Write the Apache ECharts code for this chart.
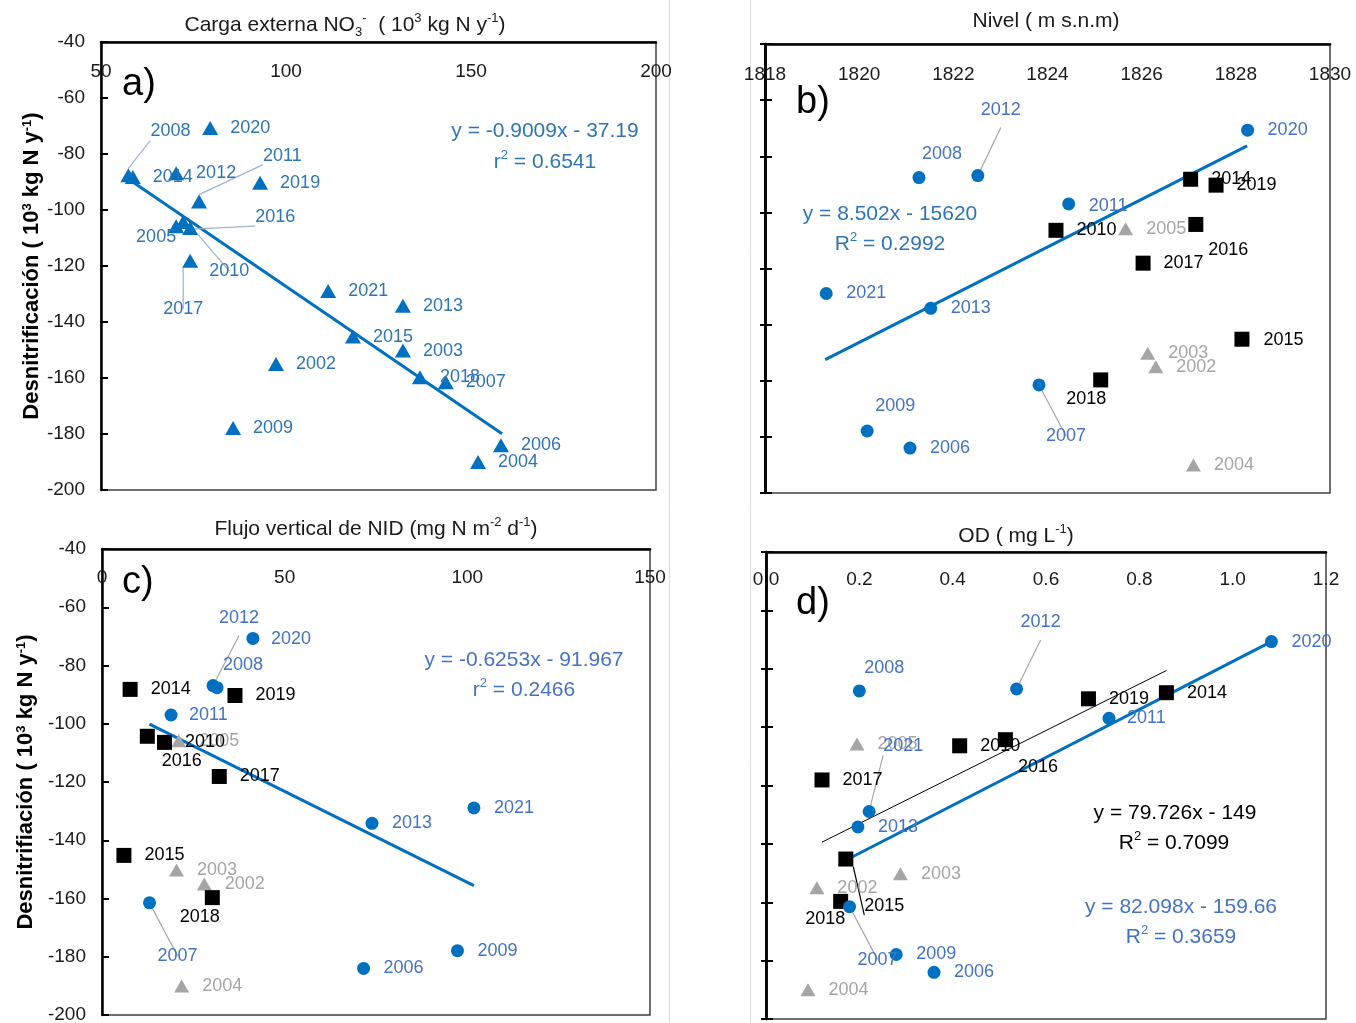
<!DOCTYPE html>
<html>
<head>
<meta charset="utf-8">
<script src="https://cdn.jsdelivr.net/npm/echarts@6/dist/echarts.min.js"></script>
<style>
  html, body { margin: 0; background: #fff; }
  #chart { width: 1356px; height: 1023px; }
</style>
</head>
<body>
<div id="chart"></div>
<script>
// years and denitrification (y, shared by the four panels)
var years = [2002, 2003, 2004, 2005, 2006, 2007, 2008, 2009, 2010, 2011,
             2012, 2013, 2014, 2015, 2016, 2017, 2018, 2019, 2020, 2021];
var denit = [-155, -150.2, -190, -105.8, -184, -161.5, -87.6, -177.9, -106.4, -97,
             -86.9, -134.2, -88.2, -145.2, -104.3, -118.1, -159.7, -90.3, -70.7, -128.9];

// x of each panel
var cargaNO3 = [97.3, 131.6, 151.9, 70.3, 158.1, 143.2, 57.4, 85.7, 74.1, 76.5,
                70.3, 131.6, 58.6, 118.1, 72.2, 74.1, 136.2, 93.0, 79.5, 111.4];
var nivel = [1826.3, 1826.13, 1827.1, 1825.66, 1821.08, 1823.82, 1821.27, 1820.17, 1824.18, 1824.45,
             1822.52, 1821.52, 1827.04, 1828.13, 1827.15, 1826.03, 1825.13, 1827.58, 1828.25, 1819.3];
var flujoNID = [28.0, 20.4, 21.8, 21.0, 71.6, 13.0, 31.5, 97.3, 17.1, 18.9,
                30.4, 73.9, 7.7, 6.0, 12.4, 32.1, 30.2, 36.4, 41.3, 101.8];
var oxigeno = [0.109, 0.288, 0.090, 0.195, 0.360, 0.179, 0.200, 0.279, 0.415, 0.735,
               0.537, 0.197, 0.858, 0.171, 0.513, 0.120, 0.160, 0.691, 1.083, 0.221];

// groups of years (panels b, c, d)
var blueYears = [2006, 2007, 2008, 2009, 2011, 2012, 2013, 2020, 2021];
var blackYears = [2010, 2014, 2015, 2016, 2017, 2018, 2019];
var grayYears = [2002, 2003, 2004, 2005];

// trend line end points
var trendA = [[58.5, -89.9], [158.4, -179.9]];
var trendB = [[1819.28, -152.5], [1828.24, -76.3]];
var trendC = [[13.0, -100.1], [101.8, -155.6]];
var trendD = [[0.171, -145.6], [1.083, -70.7]];
var trendDblack = [[0.12, -139.4], [0.858, -80.6]];

// label placement (px from point centre to label left / middle)
var labA = {2008: [22, -44], 2011: [64, -46], 2016: [72, -5], 2005: [-40, 11], 2010: [19, 43], 2017: [-27, 48]};
var leadA = [2008, 2011, 2016, 2010, 2017];
var labB = {2008: [3, -24], 2012: [3, -66], 2016: [12, 26], 2018: [-35, 19], 2007: [7, 51], 2009: [8, -25], 2011: [20, 2], 2015: [21, 1]};
var leadB = [2012, 2007];
var labC = {2012: [6, -68], 2008: [6, -23], 2011: [18, 0], 2016: [14, 25], 2018: [-33, 19], 2007: [8, 53], 2020: [18, 1]};
var leadC = [2012, 2007];
var labD = {2008: [5, -23], 2012: [4, -67], 2016: [12, 27], 2021: [14, -65], 2015: [18, 47], 2018: [-36, 18], 2007: [8, 53], 2011: [18, 0]};
var leadD = [2012, 2021, 2015, 2007];

var FONT = "'Liberation Sans Narrow', 'Arial Narrow', 'Liberation Sans', sans-serif";
var BLUE = '#0070C0';
var chart = echarts.init(document.getElementById('chart'));

function points(xs, group, offs, leads, half, leadColor) {
  var out = [];
  years.forEach(function (yr, i) {
    if (group && group.indexOf(yr) < 0) return;
    var o = offs[yr] || [20, 0];
    out.push({
      value: [xs[i], denit[i], yr],
      label: { offset: [o[0] - half, o[1]] },
      labelLine: { show: leads.indexOf(yr) >= 0, lineStyle: { color: leadColor, width: 1.2 } }
    });
  });
  return out;
}

function scatter(idx, yIdx, data, symbol, size, color, labelColor) {
  return {
    type: 'scatter', xAxisIndex: idx, yAxisIndex: yIdx, data: data,
    symbol: symbol, symbolSize: size, itemStyle: { color: color, opacity: 1 },
    label: {
      show: true, position: 'right', distance: 0, color: labelColor,
      fontFamily: FONT, fontSize: 18,
      formatter: function (p) { return p.value[2]; }
    },
    labelLine: { length2: 0, minTurnAngle: 0 },
    z: 3
  };
}

function trend(idx, yIdx, data, color, width) {
  return {
    type: 'line', xAxisIndex: idx, yAxisIndex: yIdx, data: data, symbol: 'none',
    lineStyle: { color: color, width: width }, z: 2, silent: true
  };
}

function xAxis(idx, min, max, step, margin, fmt) {
  return {
    type: 'value', gridIndex: idx, position: 'top', min: min, max: max, interval: step,
    axisLine: { show: true, onZero: false, lineStyle: { color: '#000', width: 2.5 } },
    axisTick: { show: false },
    axisLabel: { inside: true, margin: margin, fontFamily: FONT, fontSize: 19, color: '#1a1a1a', formatter: fmt || function (v) { return String(v); } },
    splitLine: { show: false }
  };
}

function yAxis(idx, withLabels, inside, name, gap) {
  return {
    type: 'value', gridIndex: idx, position: 'left', min: -200, max: -40, interval: 20,
    axisLine: { show: true, onZero: false, lineStyle: { color: '#000', width: 2.5 } },
    axisTick: { show: true, inside: inside, length: inside ? 7 : 5, lineStyle: { color: '#000', width: 2 } },
    axisLabel: { show: withLabels, margin: 16, fontFamily: FONT, fontSize: 19, color: '#1a1a1a' },
    splitLine: { show: false },
    name: name || '', nameLocation: 'middle', nameGap: gap || 0, nameRotate: 90,
    nameTextStyle: {
      fontFamily: FONT, fontSize: 22, fontWeight: 'bold', color: '#000',
      rich: { sup: { fontFamily: FONT, fontSize: 13, fontWeight: 'bold', verticalAlign: 'top', lineHeight: 13 } }
    }
  };
}

function text(x, y, str, size, color, align) {
  var small = Math.round(size * 0.62);
  return {
    type: 'text', silent: true, z: 10,
    style: {
      text: str, x: x, y: y, fontFamily: FONT, fontSize: size, fill: color,
      align: align || 'center', verticalAlign: 'middle', lineHeight: size + 6,
      rich: {
        sup: { fontFamily: FONT, fontSize: small, fill: color, verticalAlign: 'top', lineHeight: small },
        sub: { fontFamily: FONT, fontSize: small, fill: color, verticalAlign: 'bottom', lineHeight: small }
      }
    }
  };
}

function vline(x) {
  return { type: 'line', silent: true, shape: { x1: x, y1: 0, x2: x, y2: 1023 }, style: { stroke: '#dcdcdc', lineWidth: 1 } };
}

function grid(l, t, w, h) {
  return { left: l, top: t, width: w, height: h, show: true, borderColor: '#404040', borderWidth: 1.5,
           backgroundColor: 'transparent', containLabel: false, outerBoundsMode: 'none' };
}

var yName = 'Desnitrificación ( 10{sup|3} kg N y{sup|-1})';
var yNameC = 'Desnitrifiación ( 10{sup|3} kg N y{sup|-1})';

var option = {
  animation: false,
  backgroundColor: '#fff',
  grid: [grid(101, 42, 555, 448), grid(765, 44, 565, 449), grid(102, 549, 548, 466), grid(766, 552, 560, 467)],
  xAxis: [
    xAxis(0, 50, 200, 50, 20),
    xAxis(1, 1818, 1830, 2, 21),
    xAxis(2, 0, 150, 50, 19),
    xAxis(3, 0, 1.2, 0.2, 18, function (v) { return v.toFixed(1); })
  ],
  yAxis: [
    yAxis(0, true, true, yName, 58),
    yAxis(1, false, false),
    yAxis(1, false, true),
    yAxis(2, true, true, yNameC, 65),
    yAxis(3, false, false),
    yAxis(3, false, true)
  ],
  series: [
    trend(0, 0, trendA, BLUE, 3),
    scatter(0, 0, points(cargaNO3, null, labA, leadA, 8, '#9DB3CF'), 'triangle', [16, 14], BLUE, '#2E75B6'),

    trend(1, 1, trendB, BLUE, 3),
    scatter(1, 1, points(nivel, grayYears, labB, leadB, 7, '#A6A6A6'), 'triangle', [15, 13], '#A5A5A5', '#A5A5A5'),
    scatter(1, 1, points(nivel, blackYears, labB, leadB, 7, '#A6A6A6'), 'rect', 15, '#000', '#000'),
    scatter(1, 1, points(nivel, blueYears, labB, leadB, 6.5, '#A6A6A6'), 'circle', 13, BLUE, '#4472C4'),

    trend(2, 3, trendC, BLUE, 3),
    scatter(2, 3, points(flujoNID, grayYears, labC, leadC, 7, '#A6A6A6'), 'triangle', [15, 13], '#A5A5A5', '#A5A5A5'),
    scatter(2, 3, points(flujoNID, blackYears, labC, leadC, 7, '#A6A6A6'), 'rect', 15, '#000', '#000'),
    scatter(2, 3, points(flujoNID, blueYears, labC, leadC, 6.5, '#A6A6A6'), 'circle', 13, BLUE, '#4472C4'),

    trend(3, 4, trendDblack, '#000', 1),
    trend(3, 4, trendD, BLUE, 3),
    scatter(3, 4, points(oxigeno, grayYears, labD, leadD, 7, '#A6A6A6'), 'triangle', [15, 13], '#A5A5A5', '#A5A5A5'),
    scatter(3, 4, points(oxigeno, blackYears, labD, leadD, 7, '#000'), 'rect', 15, '#000', '#000'),
    scatter(3, 4, points(oxigeno, blueYears, labD, leadD, 6.5, '#A6A6A6'), 'circle', 13, BLUE, '#4472C4')
  ],
  graphic: [
    vline(669.5), vline(750.5),
    text(345, 25, 'Carga externa NO{sub|3}{sup|-}  ( 10{sup|3} kg N y{sup|-1})', 21, '#1a1a1a'),
    text(1046, 21, 'Nivel ( m s.n.m)', 21, '#1a1a1a'),
    text(376, 529, 'Flujo vertical de NID (mg N m{sup|-2} d{sup|-1})', 21, '#1a1a1a'),
    text(1016, 536, 'OD ( mg L{sup|-1})', 21, '#1a1a1a'),
    text(122, 85, 'a)', 38, '#000', 'left'),
    text(796, 103, 'b)', 38, '#000', 'left'),
    text(122, 583, 'c)', 38, '#000', 'left'),
    text(796, 604, 'd)', 38, '#000', 'left'),
    text(545, 131, 'y = -0.9009x - 37.19', 21, '#2E75B6'),
    text(545, 162, 'r{sup|2} = 0.6541', 21, '#2E75B6'),
    text(890, 214, 'y = 8.502x - 15620', 21, '#2E75B6'),
    text(890, 244, 'R{sup|2} = 0.2992', 21, '#2E75B6'),
    text(524, 660, 'y = -0.6253x - 91.967', 21, '#4472C4'),
    text(524, 690, 'r{sup|2} = 0.2466', 21, '#4472C4'),
    text(1175, 813, 'y = 79.726x - 149', 21, '#000'),
    text(1174, 843, 'R{sup|2} = 0.7099', 21, '#000'),
    text(1181, 907, 'y = 82.098x - 159.66', 21, '#4472C4'),
    text(1181, 937, 'R{sup|2} = 0.3659', 21, '#4472C4')
  ]
};

chart.setOption(option);
</script>
</body>
</html>
